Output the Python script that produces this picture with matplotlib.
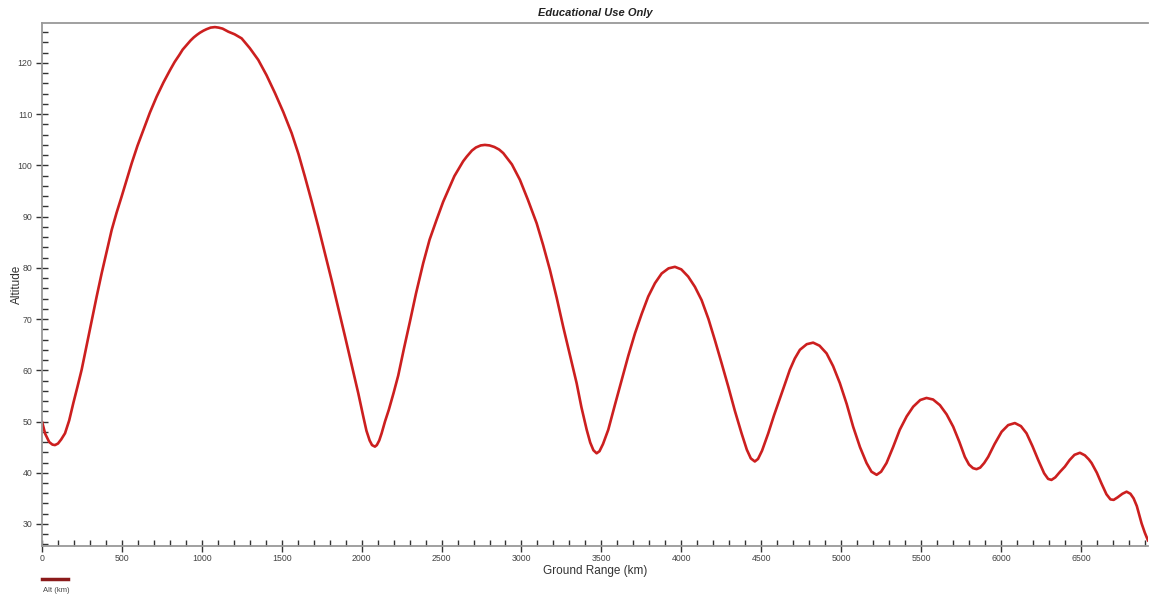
import matplotlib
matplotlib.use("Agg")
import matplotlib.pyplot as plt
from matplotlib.lines import Line2D
from matplotlib.ticker import MultipleLocator

plt.rcParams['font.family'] = ['Liberation Sans', 'DejaVu Sans']

# ground range (km) and altitude (km)
ground_range = [0, 20, 45, 65, 81, 100, 120, 144, 170, 196, 222, 248, 280, 311,
                342, 373, 405, 436, 467, 498, 530, 561, 597, 634, 675, 717, 760,
                801, 830, 860, 880, 905, 930, 950, 970, 988, 1010, 1030, 1055,
                1082, 1105, 1130, 1166, 1205, 1249, 1300, 1353, 1405, 1458, 1510,
                1562, 1605, 1645, 1687, 1729, 1770, 1812, 1854, 1896, 1938, 1979,
                2010, 2030, 2050, 2065, 2083, 2095, 2110, 2125, 2146, 2170, 2200,
                2229, 2265, 2302, 2340, 2385, 2425, 2469, 2510, 2552, 2580, 2610,
                2635, 2657, 2690, 2715, 2745, 2771, 2800, 2830, 2860, 2886, 2940,
                2990, 3040, 3095, 3135, 3178, 3220, 3261, 3303, 3345, 3375, 3408,
                3430, 3450, 3470, 3488, 3510, 3543, 3585, 3627, 3668, 3710, 3752,
                3793, 3835, 3877, 3920, 3960, 4000, 4043, 4085, 4127, 4170, 4210,
                4252, 4294, 4335, 4377, 4410, 4435, 4460, 4480, 4505, 4544, 4580,
                4617, 4648, 4679, 4710, 4742, 4785, 4825, 4865, 4909, 4950, 4992,
                5035, 5075, 5118, 5159, 5190, 5222, 5250, 5284, 5325, 5367, 5410,
                5451, 5495, 5534, 5575, 5618, 5660, 5701, 5740, 5774, 5800, 5825,
                5847, 5870, 5895, 5920, 5960, 6004, 6045, 6087, 6125, 6160, 6197,
                6233, 6270, 6295, 6316, 6340, 6370, 6400, 6430, 6460, 6494, 6525,
                6550, 6567, 6600, 6629, 6660, 6685, 6705, 6730, 6760, 6786, 6810,
                6830, 6850, 6865, 6880, 6900, 6921]
altitude = [50.0, 47.6, 46.0, 45.5, 45.4, 45.7, 46.5, 47.7, 50.2, 53.6, 56.8,
            60.1, 65.0, 69.8, 74.4, 78.9, 83.2, 87.4, 90.8, 93.9, 97.2, 100.4,
            103.8, 106.9, 110.3, 113.4, 116.2, 118.6, 120.2, 121.6, 122.6, 123.5,
            124.4, 125.0, 125.5, 125.9, 126.3, 126.6, 126.9, 127.0, 126.9, 126.7,
            126.1, 125.6, 124.8, 122.9, 120.6, 117.6, 114.1, 110.4, 106.3, 102.2,
            97.8, 93.0, 88.0, 82.9, 77.6, 72.1, 66.6, 61.0, 55.5, 51.0, 48.2,
            46.3, 45.4, 45.1, 45.4, 46.3, 47.7, 50.0, 52.3, 55.6, 59.0, 64.3,
            69.5, 75.0, 80.9, 85.5, 89.4, 92.9, 95.9, 97.9, 99.5, 100.8, 101.7,
            102.9, 103.5, 103.9, 104.0, 103.9, 103.6, 103.1, 102.4, 100.2, 97.2,
            93.3, 88.7, 84.5, 79.6, 74.2, 68.5, 63.0, 57.5, 52.8, 48.4, 45.9,
            44.4, 43.8, 44.2, 45.6, 48.4, 53.3, 58.1, 62.8, 67.2, 71.0, 74.4,
            77.0, 78.9, 79.9, 80.2, 79.7, 78.3, 76.3, 73.7, 70.0, 65.9, 61.4,
            56.8, 52.1, 47.7, 44.5, 42.8, 42.2, 42.7, 44.3, 47.7, 51.2, 54.5,
            57.3, 60.1, 62.3, 64.0, 65.1, 65.4, 64.8, 63.3, 60.8, 57.5, 53.4,
            49.0, 45.0, 41.9, 40.2, 39.6, 40.2, 41.9, 45.0, 48.4, 51.0, 52.9,
            54.2, 54.6, 54.3, 53.2, 51.4, 49.0, 46.0, 43.1, 41.6, 40.9, 40.7,
            41.0, 41.9, 43.1, 45.6, 48.0, 49.3, 49.7, 49.1, 47.7, 45.2, 42.5,
            39.9, 38.8, 38.6, 39.1, 40.2, 41.2, 42.5, 43.5, 43.9, 43.4, 42.6,
            41.9, 40.0, 37.9, 35.8, 34.8, 34.7, 35.2, 35.9, 36.3, 35.9, 35.0,
            33.5, 31.8, 30.1, 28.3, 26.7]

fig = plt.figure(figsize=(11.53, 5.97), dpi=100)
ax = fig.add_axes([42 / 1153, 1 - 546 / 597, 1106 / 1153, 523 / 597])

ax.plot(ground_range, altitude, color='#cc1f1f', lw=1.9,
        solid_capstyle='round', solid_joinstyle='round')

ax.set_xlim(0, 6920)
ax.set_ylim(25.7, 127.8)

ax.xaxis.set_major_locator(MultipleLocator(500))
ax.xaxis.set_minor_locator(MultipleLocator(100))
ax.yaxis.set_major_locator(MultipleLocator(10))
ax.yaxis.set_minor_locator(MultipleLocator(2))

spine_c = '#999999'
for s in ['left', 'bottom', 'top']:
    ax.spines[s].set_color(spine_c)
    ax.spines[s].set_linewidth(1.3)
ax.spines['right'].set_visible(False)

ax.tick_params(which='major', direction='inout', length=8, width=1,
               color='#333333', labelsize=6.3, labelcolor='#444444')
ax.tick_params(which='minor', direction='in', length=4, width=1, color='#333333')
ax.tick_params(axis='x', which='major', pad=2)
ax.tick_params(axis='y', which='major', pad=3)

ax.set_xlabel('Ground Range (km)', fontsize=8.5, color='#333333', labelpad=1)
ax.set_ylabel('Altitude', fontsize=8.5, color='#333333')
ax.yaxis.set_label_coords(-19 / 1106, 0.5)
ax.set_title('Educational Use Only', fontsize=8, fontweight='bold',
             fontstyle='italic', color='#222222', pad=5)

# legend swatch below the axis
fig.add_artist(Line2D([42 / 1153, 68 / 1153], [1 - 579 / 597, 1 - 579 / 597],
                      color='#8b1a1a', lw=2.5, transform=fig.transFigure))
fig.text(43 / 1153, 1 - 590 / 597, 'Alt (km)', fontsize=5.5, color='#444444',
         va='center', ha='left')

fig.savefig('out.png', dpi=100)
